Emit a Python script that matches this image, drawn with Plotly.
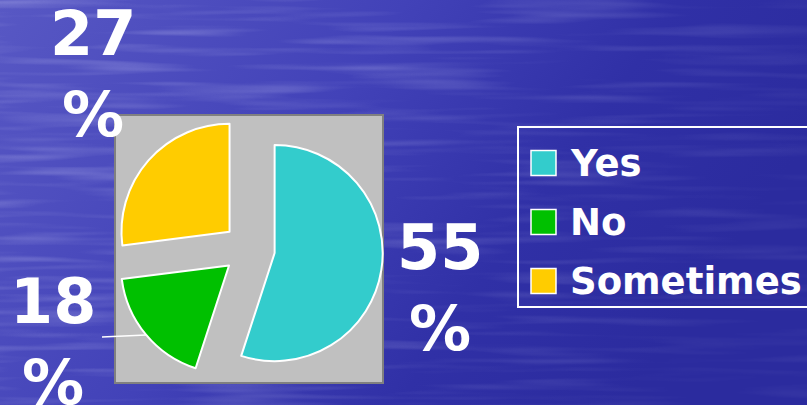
import base64
import plotly.graph_objects as go

# Survey answers
labels = ["Yes", "No", "Sometimes"]
values = [55, 18, 27]
colors = ["#33CCCC", "#00C000", "#FFCC00"]

W, H = 807, 405
FONT = "DejaVu Sans"


def px(x):
    return x / W


def py(y):
    return 1 - y / H


# Water-like blue background (gradient + horizontal streaks)
svg = f"""<svg xmlns='http://www.w3.org/2000/svg' width='{W}' height='{H}'>
<defs>
<linearGradient id='g' x1='0' y1='0' x2='1' y2='0.35'>
<stop offset='0' stop-color='#5858C4'/>
<stop offset='0.45' stop-color='#4242B8'/>
<stop offset='0.75' stop-color='#3030A6'/>
<stop offset='1' stop-color='#2B2B9E'/>
</linearGradient>
<linearGradient id='mg' x1='0' y1='0' x2='1' y2='0.2'>
<stop offset='0' stop-color='white' stop-opacity='1'/>
<stop offset='0.6' stop-color='white' stop-opacity='0.6'/>
<stop offset='1' stop-color='white' stop-opacity='0.25'/>
</linearGradient>
<mask id='m'><rect width='{W}' height='{H}' fill='url(#mg)'/></mask>
<filter id='t' x='0' y='0' width='100%' height='100%'>
<feTurbulence type='fractalNoise' baseFrequency='0.006 0.11' numOctaves='2' seed='4'/>
<feColorMatrix values='0 0 0 0 0.75  0 0 0 0 0.75  0 0 0 0 1  1.6 0 0 0 -0.75'/>
</filter>
</defs>
<rect width='{W}' height='{H}' fill='url(#g)'/>
<rect width='{W}' height='{H}' filter='url(#t)' mask='url(#m)' opacity='0.45'/>
</svg>"""
bg_src = "data:image/svg+xml;base64," + base64.b64encode(svg.encode()).decode()

# grey chart box in pixels
box = (115, 115, 383, 383)

fig = go.Figure(go.Pie(
    labels=labels, values=values,
    marker=dict(colors=colors, line=dict(color="white", width=2)),
    sort=False, direction="clockwise", rotation=0,
    pull=[0.24, 0.24, 0.24],
    textinfo="none", hoverinfo="label+percent",
    showlegend=False,
    domain=dict(x=[px(box[0]), px(box[2])], y=[py(box[3]), py(box[1])]),
))

shapes = [
    dict(type="rect", xref="paper", yref="paper", layer="below",
         x0=px(box[0]), x1=px(box[2]), y0=py(box[3]), y1=py(box[1]),
         fillcolor="#C0C0C0", line=dict(color="#808080", width=2)),
    # leader line for the 18 % label
    dict(type="line", xref="paper", yref="paper",
         x0=px(102), y0=py(337), x1=px(146), y1=py(335),
         line=dict(color="white", width=1.5)),
    # legend frame
    dict(type="rect", xref="paper", yref="paper",
         x0=px(518), x1=px(812), y0=py(307), y1=py(127),
         line=dict(color="white", width=2)),
]

annotations = []
# percent labels outside the pie
label_pos = {"Yes": (440, 288), "No": (53, 342), "Sometimes": (93, 74)}
for lab, v in zip(labels, values):
    x, y = label_pos[lab]
    annotations.append(dict(
        x=px(x), y=py(y), xref="paper", yref="paper", showarrow=False,
        text=f"<b>{v}<br>%</b>", align="center",
        xanchor="center", yanchor="middle",
        font=dict(family=FONT, size=62, color="white"),
    ))

# legend entries
leg_y = [163, 222, 281]
for lab, col, y in zip(labels, colors, leg_y):
    shapes.append(dict(type="rect", xref="paper", yref="paper",
                       x0=px(531), x1=px(556), y0=py(y + 12.5), y1=py(y - 12.5),
                       fillcolor=col, line=dict(color="white", width=1.5)))
    annotations.append(dict(
        x=px(568), y=py(y), xref="paper", yref="paper", showarrow=False,
        text=f"<b>{lab}</b>", xanchor="left", yanchor="middle",
        font=dict(family=FONT, size=37, color="white"),
    ))

fig.update_layout(
    width=W, height=H,
    margin=dict(l=0, r=0, t=0, b=0),
    paper_bgcolor="#3A3AB0",
    images=[dict(source=bg_src, xref="paper", yref="paper", x=0, y=1,
                 sizex=1, sizey=1, sizing="stretch", xanchor="left",
                 yanchor="top", layer="below")],
    shapes=shapes,
    annotations=annotations,
    font=dict(family=FONT),
)

fig.write_html("out.html", config=dict(displayModeBar=False),
               post_script="document.body.style.margin='0';document.body.style.overflow='hidden';")
